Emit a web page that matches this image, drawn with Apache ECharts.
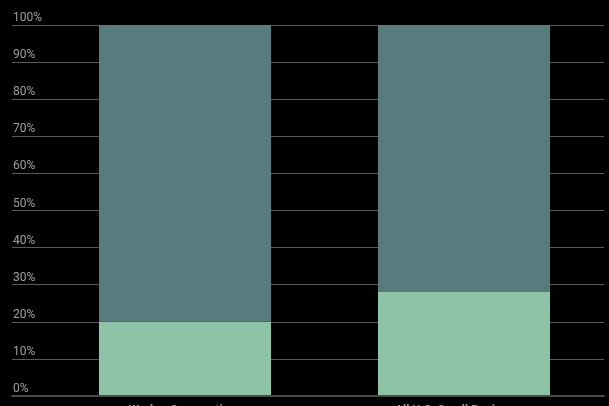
<!DOCTYPE html>
<html><head><meta charset="utf-8">
<script src="https://cdn.jsdelivr.net/npm/echarts@6/dist/echarts.min.js"></script>
<style>html,body{margin:0;padding:0;background:#000;}#c{width:609px;height:406px;}</style>
</head><body><div id="c"></div>
<script>
const categories = ['Worker Cooperatives', 'All U.S. Small Businesses'];
const lowerShare = [20, 28];
const upperShare = [80, 72];
const yTicks = [0, 10, 20, 30, 40, 50, 60, 70, 80, 90, 100];

const chart = echarts.init(document.getElementById('c'));
chart.setOption({
  backgroundColor: '#000',
  animation: false,
  grid: [
    {left: 12, right: 5, top: 25, bottom: 10, containLabel: false, outerBoundsMode: 'none'},
    {left: 45.5, right: 5.5, top: 25, bottom: 10, containLabel: false, outerBoundsMode: 'none'}
  ],
  xAxis: [
    {gridIndex: 0, type: 'category', data: ['', ''], axisTick: {show: false}, axisLabel: {show: false},
     axisLine: {show: true, lineStyle: {color: '#4a4a4a', width: 2}}, z: 5},
    {gridIndex: 1, type: 'category', data: categories, axisTick: {show: false}, axisLine: {show: false},
     axisLabel: {color: '#9a9a9a', fontSize: 12, fontFamily: 'Roboto', fontWeight: 'bold', margin: 9}}
  ],
  yAxis: [
    {gridIndex: 0, type: 'value', min: yTicks[0], max: yTicks[yTicks.length - 1], interval: 10,
     axisLine: {show: false}, axisTick: {show: false},
     splitLine: {lineStyle: {color: '#5a5a5a', width: 1}},
     axisLabel: {inside: true, margin: 1, color: '#a0a0a0', fontSize: 12, fontFamily: 'Roboto',
       verticalAlign: 'bottom', padding: [0, 0, 1, 0], formatter: '{value}%'}},
    {gridIndex: 1, type: 'value', min: 0, max: 100, show: false}
  ],
  series: [
    {type: 'bar', xAxisIndex: 1, yAxisIndex: 1, stack: 's', data: lowerShare, barWidth: 172,
     itemStyle: {color: '#8ec3a7'}, z: 3},
    {type: 'bar', xAxisIndex: 1, yAxisIndex: 1, stack: 's', data: upperShare, barWidth: 172,
     itemStyle: {color: '#587b7e'}, z: 3}
  ]
});
</script></body></html>
